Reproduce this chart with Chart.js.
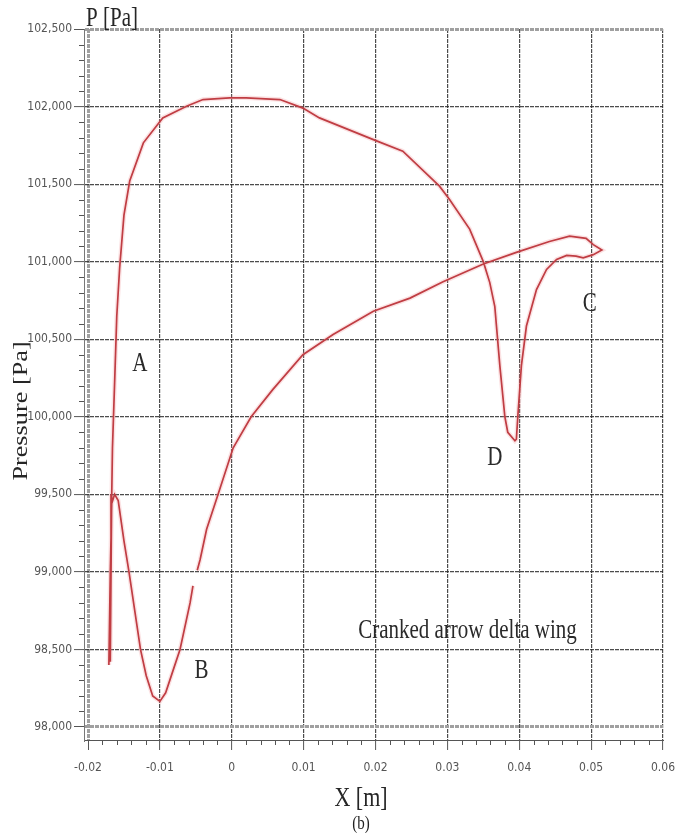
<!DOCTYPE html>
<html>
<head>
<meta charset="utf-8">
<title>Pressure distribution</title>
<script src="https://cdn.jsdelivr.net/npm/chart.js@4.4.1/dist/chart.umd.min.js"></script>
<style>
  html, body { margin: 0; padding: 0; background: #fff; }
  canvas { display: block; }
</style>
</head>
<body>
<canvas id="pressureChart" width="686" height="836"></canvas>
<script>
// chordwise position [m] and surface pressure [Pa]; null marks the break in the lower branch
const xPos = [
  -0.0171, -0.0169, -0.0167, -0.0163, -0.0158, -0.0150, -0.0143, -0.0135, -0.0127, -0.0119,
  -0.0110, -0.0100, -0.0092, -0.0082, -0.0072, -0.0058, -0.0054, -0.0051, -0.0048, -0.0044,
  -0.0035, -0.0019, 0.0002, 0.0027, 0.0057, 0.0099, 0.0141, 0.0197, 0.0248, 0.0294,
  0.0350, 0.0396, 0.0442, 0.0470, 0.0493, 0.0503, 0.0515, 0.0503, 0.0489, 0.0479,
  0.0466, 0.0452, 0.0438, 0.0424, 0.0410, 0.0403, 0.0398, 0.0396, 0.0394, 0.0384,
  0.0380, 0.0373, 0.0366, 0.0359, 0.0350, 0.0331, 0.0303, 0.0289, 0.0238, 0.0197,
  0.0122, 0.0099, 0.0067, 0.0020, -0.0003, -0.0040, -0.0063, -0.0096, -0.0123, -0.0142,
  -0.0150, -0.0156, -0.0160, -0.0163, -0.0166, -0.0167, -0.0168, -0.0169
];
const pressure = [
  98400, 99000, 99440, 99500, 99460, 99200, 99000, 98750, 98500, 98330,
  98200, 98165, 98220, 98360, 98500, 98800, 98910, null, 99010, 99080,
  99275, 99500, 99800, 100000, 100175, 100400, 100530, 100680, 100765, 100870,
  100985, 101060, 101130, 101165, 101150, 101110, 101075, 101045, 101025, 101036,
  101040, 101014, 100950, 100820, 100585, 100330, 100000, 99855, 99845, 99900,
  100000, 100330, 100710, 100865, 101000, 101210, 101400, 101487, 101712, 101787,
  101927, 101990, 102045, 102056, 102056, 102045, 102002, 101927, 101766, 101520,
  101300, 100960, 100650, 100220, 99800, 99500, 99000, 98420
];

const xTicks = [-0.02, -0.01, 0, 0.01, 0.02, 0.03, 0.04, 0.05, 0.06];
const xTickLabels = ['-0.02', '-0.01', '0', '0.01', '0.02', '0.03', '0.04', '0.05', '0.06'];
const yTicks = [98000, 98500, 99000, 99500, 100000, 100500, 101000, 101500, 102000, 102500];
const yTickLabels = ['98,000', '98,500', '99,000', '99,500', '100,000', '100,500', '101,000', '101,500', '102,000', '102,500'];

// region letters and caption placed in data units
const markNames = ['A', 'B', 'C', 'D', 'Cranked arrow delta wing'];
const markX = [-0.0128, -0.0042, 0.0498, 0.0366, 0.0328];
const markP = [100338, 98360, 100724, 99732, 98620];

const SERIF = "'Liberation Serif', 'Times New Roman', serif";
const TICK_FONT = "'DejaVu Sans Condensed', 'Liberation Sans Narrow', sans-serif";
const STRETCH = 1.25;

const points = xPos.map((x, i) => ({ x: x, y: pressure[i] }));

function tallText(ctx, text, x, y, size, rotate) {
  ctx.save();
  ctx.translate(x, y);
  if (rotate) ctx.rotate(-Math.PI / 2);
  if (rotate) ctx.scale(STRETCH, 1); else ctx.scale(1, STRETCH);
  ctx.font = size + 'px ' + SERIF;
  ctx.textAlign = 'center';
  ctx.textBaseline = 'middle';
  ctx.fillText(text, 0, 0);
  ctx.restore();
}

const minorTicks = {
  id: 'minorTicks',
  afterDraw(chart) {
    const { ctx, scales: { x, y } } = chart;
    ctx.save();
    ctx.strokeStyle = '#555';
    ctx.lineWidth = 1;
    ctx.beginPath();
    for (let v = 98000; v <= 102500; v += 100) {
      if (v % 500 === 0) continue;
      const py = Math.round(y.getPixelForValue(v)) + 0.5;
      ctx.moveTo(y.right - 5, py);
      ctx.lineTo(y.right, py);
    }
    for (let k = -10; k <= 30; k++) {
      if (k % 5 === 0) continue;
      const px = Math.round(x.getPixelForValue(k * 0.002)) + 0.5;
      ctx.moveTo(px, x.top);
      ctx.lineTo(px, x.top + 5);
    }
    ctx.stroke();
    ctx.restore();
  }
};

const labels = {
  id: 'labels',
  afterDraw(chart) {
    const { ctx, scales: { x, y } } = chart;
    ctx.save();
    ctx.fillStyle = '#2a2a2a';
    markNames.forEach((name, i) => {
      tallText(ctx, name, x.getPixelForValue(markX[i]), y.getPixelForValue(markP[i]), 21, false);
    });
    // axis titles
    ctx.fillStyle = '#262626';
    tallText(ctx, 'P [Pa]', 112, 19, 21, false);
    tallText(ctx, 'Pressure [Pa]', 21, 411, 21, true);
    tallText(ctx, 'X [m]', 361, 799, 22, false);
    ctx.fillStyle = '#222';
    tallText(ctx, '(b)', 361, 824, 15, false);
    ctx.restore();
  }
};

const edgeLine = (ctx, edgeValue) => ctx.tick && ctx.tick.value === edgeValue;

new Chart(document.getElementById('pressureChart'), {
  type: 'scatter',
  data: {
    datasets: [{
      data: points,
      showLine: true,
      borderColor: 'rgba(240, 140, 145, 0.25)',
      borderWidth: 4.5,
      pointRadius: 0,
      spanGaps: false
    }, {
      data: points,
      showLine: true,
      borderColor: '#b0232a',
      borderWidth: 1.7,
      pointRadius: 0,
      spanGaps: false
    }]
  },
  options: {
    responsive: false,
    animation: false,
    layout: { padding: { top: 29, right: 23, left: 0, bottom: 0 } },
    plugins: { legend: { display: false }, tooltip: { enabled: false } },
    scales: {
      x: {
        type: 'linear',
        min: -0.02056,
        max: 0.06,
        afterBuildTicks: s => { s.ticks = xTicks.map(v => ({ value: v })); },
        afterFit: s => { s.height = 96; },
        border: { color: '#555', width: 1, dash: [4, 1] },
        grid: {
          color: c => edgeLine(c, -0.02) ? '#a0a0a0' : 'rgba(45,45,45,0.85)',
          lineWidth: c => edgeLine(c, -0.02) ? 3 : 1.2,
          tickLength: 10,
          tickColor: '#555',
          tickWidth: 1,
          tickBorderDash: []
        },
        ticks: {
          callback: (v, i) => xTickLabels[i],
          font: { family: TICK_FONT, size: 12 },
          color: '#555',
          padding: 11,
          maxRotation: 0
        }
      },
      y: {
        type: 'linear',
        min: 97916,
        max: 102500,
        afterBuildTicks: s => { s.ticks = yTicks.map(v => ({ value: v })); },
        afterFit: s => { s.width = 84; },
        border: { color: '#777', width: 1, dash: [4, 1] },
        grid: {
          color: c => (edgeLine(c, 102500) || edgeLine(c, 98000)) ? '#a0a0a0' : 'rgba(45,45,45,0.85)',
          lineWidth: c => (edgeLine(c, 102500) || edgeLine(c, 98000)) ? 3 : 1.2,
          tickLength: 10,
          tickColor: '#555',
          tickWidth: 1,
          tickBorderDash: []
        },
        ticks: {
          callback: (v, i) => yTickLabels[i],
          font: { family: TICK_FONT, size: 12 },
          color: '#555',
          padding: 2
        }
      }
    }
  },
  plugins: [minorTicks, labels]
});
</script>
</body>
</html>
